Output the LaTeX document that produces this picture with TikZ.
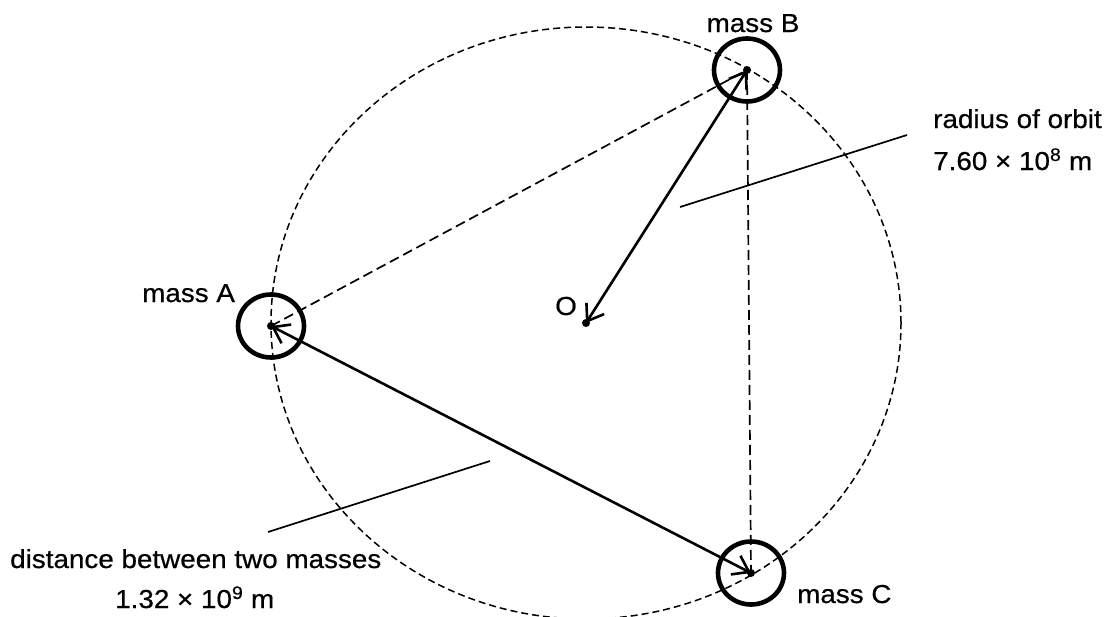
\documentclass[tikz,border=0pt]{standalone}
\usepackage{fontspec}
\setmainfont{Liberation Sans}[FakeStretch=1.07,FakeBold=0.6]
\usetikzlibrary{arrows.meta,shapes.geometric}
\begin{document}
\begin{tikzpicture}[x=1pt,y=-1pt,
  lbl/.style={inner sep=0pt,font=\fontsize{26}{30}\selectfont},
  masscirc/.style={draw,ellipse,line width=4.6pt,minimum width=66pt,minimum height=63pt,inner sep=0pt},
  arr/.style={line width=2.6pt,{Straight Barb[length=15pt,width=21pt]}-{Straight Barb[length=15pt,width=21pt]}},
  sidedash/.style={line width=1.7pt,dash pattern=on 10pt off 5pt},
  orbitdash/.style={line width=1.5pt,dash pattern=on 7pt off 4pt},
  leader/.style={line width=1.7pt}]
\useasboundingbox (0,0) rectangle (1111,616);
% centres
\coordinate (A) at (271,326);
\coordinate (B) at (747,70);
\coordinate (C) at (751,573);
\coordinate (O) at (586,323);
% orbit
\draw[orbitdash] (O) ellipse [x radius=315pt, y radius=296pt];
% dashed sides
\draw[sidedash] (A) -- (B);
\draw[sidedash] (B) -- (C);
% masses
\node[masscirc] (mA) at (A) {};
\node[masscirc] (mB) at (B) {};
\node[masscirc] (mC) at (C) {};
\fill (A) circle (4pt);
\fill (B) circle (4pt);
\fill (C) circle (4pt);
\fill (O) circle (4pt);
% arrows
\draw[arr] (A) -- (C);
\draw[arr] (B) -- (O);
% leaders
\coordinate (r1) at (680,207);
\coordinate (r2) at (907,135);
\draw[leader] (r1) -- (r2);
\coordinate (d1) at (490,461);
\coordinate (d2) at (268,532);
\draw[leader] (d1) -- (d2);
% labels
\node[lbl,anchor=base] (tB) at (753,32) {mass B};
\node[lbl,anchor=base west] (tA) at (142,302) {mass A};
\node[lbl,anchor=base west] (tC) at (797,603) {mass C};
\node[lbl] (tO) at (566,306) {O};
\node[lbl,anchor=base west] (tr1) at (933,128) {radius of orbit};
\node[lbl,anchor=base west] (tr2) at (933,170) {7.60 × 10\textsuperscript{8} m};
\node[lbl,anchor=base west] (td1) at (10,568) {distance between two masses};
\node[lbl,anchor=base west] (td2) at (115,608) {1.32 × 10\textsuperscript{9} m};
\end{tikzpicture}
\end{document}
